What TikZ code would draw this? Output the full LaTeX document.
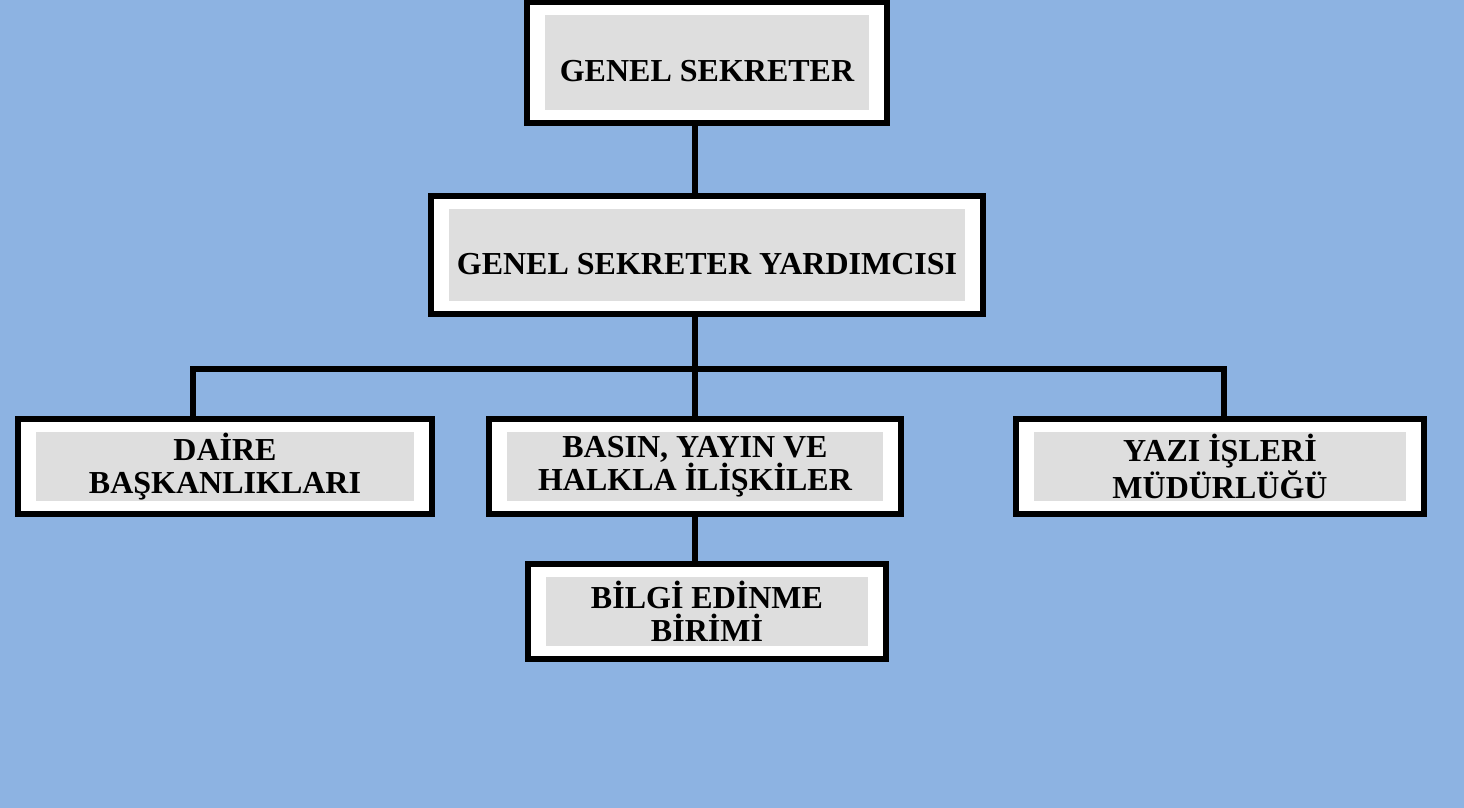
\documentclass[tikz,border=0pt]{standalone}
\usepackage{fontspec}
\setmainfont{Liberation Serif}
\definecolor{bgblue}{HTML}{8DB3E2}
\definecolor{cellgray}{HTML}{DEDEDE}
\tikzset{
  orgbox/.style={draw=black, line width=3pt, fill=white, inner sep=0pt,
    align=center, font=\fontsize{16}{16.5}\selectfont\bfseries,
    path picture={\fill[cellgray]
      ([shift={(9pt,6.5pt)}]path picture bounding box.south west) rectangle
      ([shift={(-9pt,-6.5pt)}]path picture bounding box.north east);}},
  oneline/.style={text height=19.5pt, text depth=0pt},
  link/.style={draw=black, line width=3pt}
}
\begin{document}
\begin{tikzpicture}[x=0.5pt,y=-0.5pt]
      \fill[bgblue] (0,0) rectangle (1464,808);
      \useasboundingbox (0,0) rectangle (1464,808);
      \node[orgbox, oneline, minimum width=180pt, minimum height=60.5pt] (gs) at (707,62.5) {GENEL SEKRETER};
      \node[orgbox, oneline, minimum width=276pt, minimum height=59pt] (gsy) at (707,255) {GENEL SEKRETER YARDIMCISI};
      \node[orgbox, minimum width=207pt, minimum height=47.5pt] (daire) at (225,466.5) {DAİRE\\BAŞKANLIKLARI};
      \node[orgbox, minimum width=206pt, minimum height=47.5pt] (basin) at (695,466.5) {BASIN, YAYIN VE\\HALKLA İLİŞKİLER};
      \node[orgbox, minimum width=204pt, minimum height=47.5pt] (yazi) at (1220,466.5) {YAZI İŞLERİ\\MÜDÜRLÜĞÜ};
      \node[orgbox, minimum width=179pt, minimum height=47.5pt] (bilgi) at (707,611.5) {BİLGİ EDİNME\\BİRİMİ};
      \coordinate (bus) at (695,369);
      \coordinate (ldrop) at (193,369);
      \coordinate (rdrop) at (1224,369);
      \begin{scope}[link]
        \draw (gs.south -| bus) to (gsy.north -| bus);
        \draw (gsy.south -| bus) to (bus);
        \draw (daire.north -| ldrop) -- (ldrop) -- (rdrop) -- (yazi.north -| rdrop);
        \draw (bus) to (basin.north);
        \draw (basin.south) to (basin.south |- bilgi.north);
      \end{scope}
    \end{tikzpicture}
\end{document}
